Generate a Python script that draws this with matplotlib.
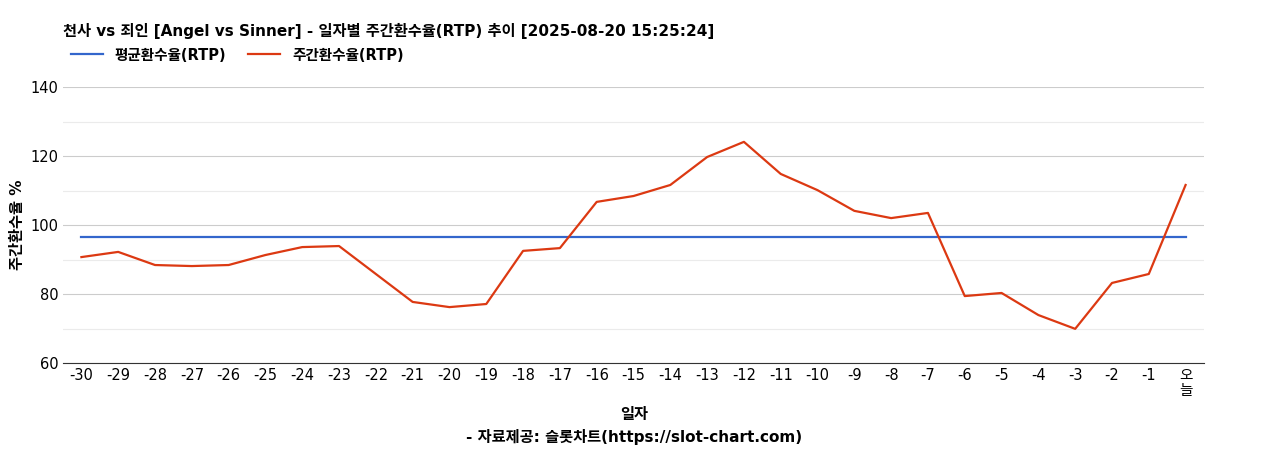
import matplotlib.pyplot as plt

plt.rcParams['font.family'] = ['DejaVu Sans', 'Noto Sans CJK KR', 'Noto Sans CJK JP',
                               'Noto Sans CJK SC', 'Noto Sans CJK TC']

labels = [str(i) for i in range(-30, 0)] + ['오\n늘']
weekly_rtp = [90.7, 92.2, 88.4, 88.1, 88.4, 91.3, 93.6, 93.9, 85.8, 77.7,
              76.2, 77.1, 92.5, 93.3, 106.7, 108.4, 111.6, 119.7, 124.1, 114.8,
              110.1, 104.1, 102.0, 103.5, 79.4, 80.3, 73.9, 69.9, 83.2, 85.8, 111.6]
avg_rtp = [96.5] * len(labels)

fig = plt.figure(figsize=(12.68, 4.5), dpi=100)
ax = fig.add_axes([63/1268, 1-363/450, (1204-63)/1268, (363-87)/450])
x = list(range(len(labels)))

ax.plot(x, avg_rtp, color='#3366cc', lw=1.6, label='평균환수율(RTP)')
ax.plot(x, weekly_rtp, color='#dc3912', lw=1.6, label='주간환수율(RTP)')

ax.set_xlim(-0.5, len(labels) - 0.5)
ax.set_ylim(60, 140)
ax.set_yticks([60, 80, 100, 120, 140])
ax.set_yticks([70, 90, 110, 130], minor=True)
ax.grid(axis='y', which='major', color='#cccccc', lw=0.8)
ax.grid(axis='y', which='minor', color='#ebebeb', lw=0.8)
ax.tick_params(which='both', length=0, labelsize=10.5)
ax.set_xticks(x)
ax.set_xticklabels(labels, linespacing=1.0, va='top')
ax.set_axisbelow(True)
for s in ['top', 'right', 'left']:
    ax.spines[s].set_visible(False)
ax.spines['bottom'].set_color('#333333')

ax.set_ylabel('주간환수율 %', fontsize=11, fontweight='bold')
fig.text(0.5, 1 - 415/450, '일자', ha='center', va='center', fontsize=11, fontweight='bold')
fig.text(0.5, 1 - 437/450, '- 자료제공: 슬롯차트(https://slot-chart.com)', ha='center', va='center',
         fontsize=11, fontweight='bold')
fig.text(63/1268, 1 - 31/450, '천사 vs 죄인 [Angel vs Sinner] - 일자별 주간환수율(RTP) 추이 [2025-08-20 15:25:24]',
         ha='left', va='center', fontsize=11, fontweight='bold')
fig.legend(loc='center left', bbox_to_anchor=(58/1268, 1 - 55/450), ncol=2, frameon=False,
           handlelength=2.2, columnspacing=1.5, prop={'weight': 'bold', 'size': 10.5})

fig.savefig('out.png', dpi=100)
